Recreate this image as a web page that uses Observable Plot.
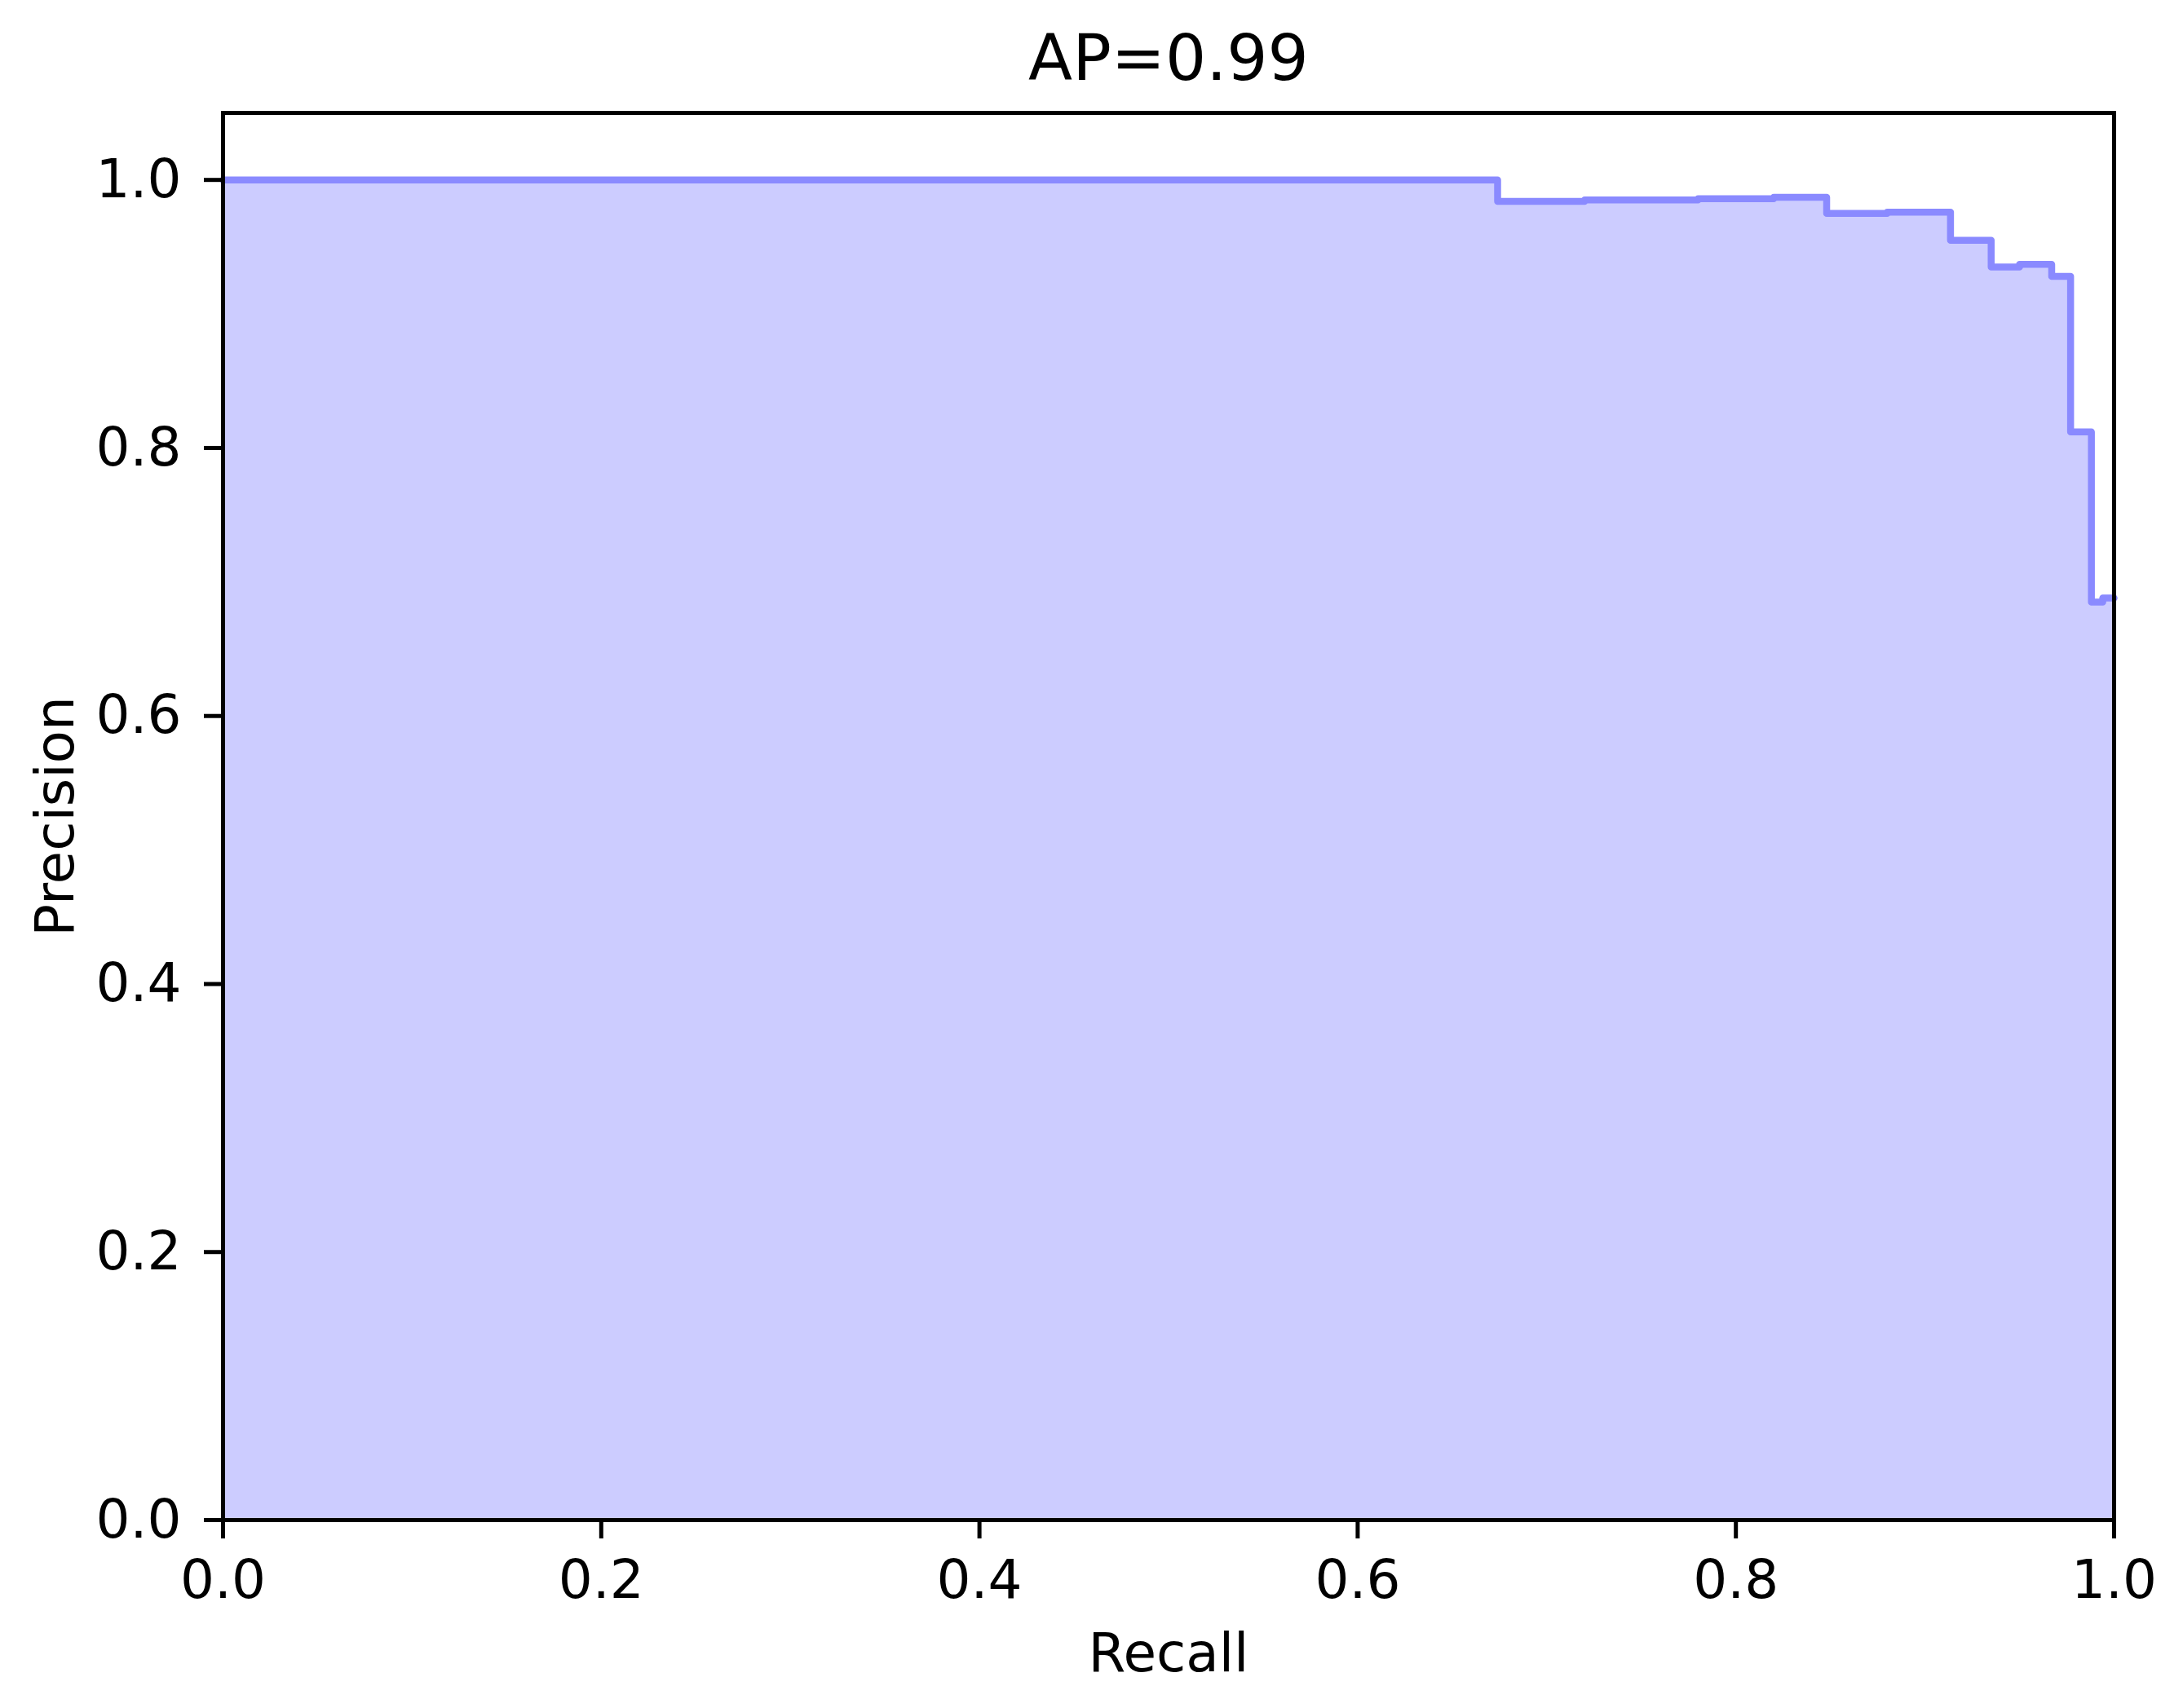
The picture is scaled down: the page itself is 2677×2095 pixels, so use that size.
<!DOCTYPE html>
<html>
<head>
<meta charset="utf-8">
<script src="https://cdn.jsdelivr.net/npm/d3@7"></script>
<script src="https://cdn.jsdelivr.net/npm/@observablehq/plot@0.6"></script>
<style>
  html, body { margin: 0; padding: 0; background: white; }
</style>
</head>
<body>
<div id="chart"></div>
<script>
// Precision-recall curve (step "post")
const recall    = [0.0, 0.674, 0.72, 0.78, 0.82, 0.848, 0.88, 0.9135, 0.935, 0.95, 0.967, 0.977, 0.988, 0.994, 1.0];
const precision = [1.0, 0.984, 0.985, 0.986, 0.987, 0.975, 0.976, 0.955, 0.935, 0.937, 0.928, 0.812, 0.685, 0.688, 0.688];
const xTicks = [0, 0.2, 0.4, 0.6, 0.8, 1.0];
const yTicks = [0, 0.2, 0.4, 0.6, 0.8, 1.0];
const titleText = "AP=0.99";
const xLabel = "Recall";
const yLabel = "Precision";

const data = recall.map((r, i) => ({recall: r, precision: precision[i]}));

const chart = Plot.plot({
  width: 2677,
  height: 2095,
  marginLeft: 273,
  marginRight: 85,
  marginTop: 138,
  marginBottom: 231,
  style: {fontFamily: "DejaVu Sans", fontSize: "66px", background: "white", color: "black"},
  x: {domain: [0, 1], label: null},
  y: {domain: [0, 1.05], label: null},
  marks: [
    Plot.areaY(data, {x: "recall", y: "precision", curve: "step-after", fill: "#ccccff"}),
    Plot.line(data, {x: "recall", y: "precision", curve: "step-after", stroke: "#8a8aff", strokeWidth: 8.5}),
    Plot.frame({stroke: "black", strokeWidth: 5}),
    Plot.axisX({ticks: xTicks, tickFormat: d3.format(".1f"), tickSize: 23, tickPadding: 26, strokeWidth: 5, fontSize: 66, label: null}),
    Plot.axisY({ticks: yTicks, tickFormat: d3.format(".1f"), tickSize: 23, tickPadding: 28, strokeWidth: 5, fontSize: 66, label: null}),
    Plot.text([titleText], {text: d => d, frameAnchor: "top", dy: -66, fontSize: 79, lineAnchor: "middle"}),
    Plot.text([xLabel], {text: d => d, frameAnchor: "bottom", dy: 164, fontSize: 66, lineAnchor: "middle"}),
    Plot.text([yLabel], {text: d => d, frameAnchor: "left", textAnchor: "middle", dx: -205, rotate: -90, fontSize: 66, lineAnchor: "middle"})
  ]
});
document.getElementById("chart").appendChild(chart);
</script>
</body>
</html>
